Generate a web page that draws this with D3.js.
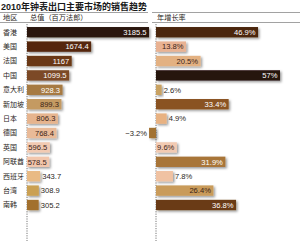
<!DOCTYPE html>
<html><head><meta charset="utf-8">
<script src="https://cdn.jsdelivr.net/npm/d3@7"></script>
<style>
html,body{margin:0;padding:0;background:#fff;}
svg{display:block;font-family:"Liberation Sans","Noto Sans CJK SC",sans-serif;}
</style></head>
<body>
<script>
const title = "2010年钟表出口主要市场的销售趋势";
const headers = ["地区", "总值（百万法郎）", "年增长率"];
const regions = ["香港","美国","法国","中国","意大利","新加坡","日本","德国","英国","阿联酋","西班牙","台湾","南韩"];
const totals = [3185.5,1674.4,1167,1099.5,928.3,899.3,806.3,768.4,596.5,578.5,343.7,308.9,305.2];
const totalLabels = ["3185.5","1674.4","1167","1099.5","928.3","899.3","806.3","768.4","596.5","578.5","343.7","308.9","305.2"];
const growth = [46.9,13.8,20.5,57,2.6,33.4,4.9,-3.2,9.6,31.9,7.8,26.4,36.8];
const growthLabels = ["46.9%","13.8%","20.5%","57%","2.6%","33.4%","4.9%","−3.2%","9.6%","31.9%","7.8%","26.4%","36.8%"];
const totalColors = ["#2a170d","#55280a","#6b3814","#7c4a26","#a67a42","#c49a62","#e6b48e","#e9ba98","#f2cab2","#f2c6ac","#e9ba84","#caa052","#a2702e"];
const growthColors = ["#4c260a","#e9b292","#e3b182","#26150c","#c9a262","#8a5220","#e8b282","#a27232","#f2cab2","#a87538","#f0c2a2","#c99b5a","#6a3a12"];

const W = 300, H = 241;
const svg = d3.select("body").append("svg").attr("width", W).attr("height", H);
const defs = svg.append("defs");
const f = defs.append("filter").attr("id","sh").attr("x","-20%").attr("y","-30%").attr("width","150%").attr("height","180%");
f.append("feDropShadow").attr("dx",1.5).attr("dy",1.5).attr("stdDeviation",0.8).attr("flood-color","#000").attr("flood-opacity",0.4);

const ink = "#2a2622";
svg.append("text").attr("x",1).attr("y",10).attr("font-size",9).attr("font-weight","bold").attr("fill","#1a1a1a").text(title);
// header lines
[[0,148],[152,300]].forEach(([a,b])=>{
  svg.append("line").attr("x1",a).attr("x2",b).attr("y1",12.5).attr("y2",12.5).attr("stroke","#8a8a8a").attr("stroke-width",0.8);
  svg.append("line").attr("x1",a).attr("x2",b).attr("y1",22.5).attr("y2",22.5).attr("stroke","#8a8a8a").attr("stroke-width",0.8);
});
svg.append("text").attr("x",3).attr("y",20).attr("font-size",7.2).attr("fill",ink).text(headers[0]);
svg.append("text").attr("x",30).attr("y",20).attr("font-size",7.2).attr("fill",ink).text(headers[1]);
svg.append("text").attr("x",157).attr("y",20).attr("font-size",7.2).attr("fill",ink).text(headers[2]);

const y = d3.scaleBand().domain(regions).range([25, 25 + regions.length*14.4]).paddingInner(0.28).paddingOuter(0.14);
const xL = d3.scaleLinear().domain([0, 3185.5]).range([27, 149]);
const xR = d3.scaleLinear().domain([0, 57]).range([156, 280]);

// category labels
svg.append("g").selectAll("text").data(regions).join("text")
  .attr("x",3).attr("y",d=>y(d)+y.bandwidth()/2).attr("dy","0.35em")
  .attr("font-size",7).attr("fill",ink).text(d=>d);

// axes (dashed)
[xL(0), xR(0)].forEach(x=>{
  svg.append("line").attr("x1",x).attr("x2",x).attr("y1",24).attr("y2",H)
    .attr("stroke","#555").attr("stroke-width",0.8).attr("stroke-dasharray","1.2,1.2");
});

function panel(vals, labels, colors, x) {
  const g = svg.append("g");
  g.selectAll("rect").data(vals).join("rect")
    .attr("x",(d)=>Math.min(x(0), x(d)))
    .attr("y",(d,i)=>y(regions[i]))
    .attr("width",d=>Math.abs(x(d)-x(0)))
    .attr("height",y.bandwidth())
    .attr("fill",(d,i)=>colors[i])
    .attr("filter","url(#sh)");
  g.selectAll("text").data(vals).join("text")
    .attr("y",(d,i)=>y(regions[i])+y.bandwidth()/2).attr("dy","0.36em")
    .attr("font-size",7.6).text((d,i)=>labels[i])
    .each(function(d,i){
      const t = d3.select(this);
      const len = this.getComputedTextLength();
      const bw = Math.abs(x(d)-x(0));
      if (d < 0) {
        t.attr("x", x(d)-2).attr("text-anchor","end").attr("fill",ink);
      } else if (len + 3 <= bw) {
        const light = d3.hsl(colors[i]).l < 0.5;
        t.attr("x", x(d)-2.5).attr("text-anchor","end").attr("fill", light ? "#fff" : "#3a2418");
      } else {
        t.attr("x", x(d)+2).attr("text-anchor","start").attr("fill",ink);
      }
    });
}
panel(totals, totalLabels, totalColors, xL);
panel(growth, growthLabels, growthColors, xR);
</script>
</body></html>
